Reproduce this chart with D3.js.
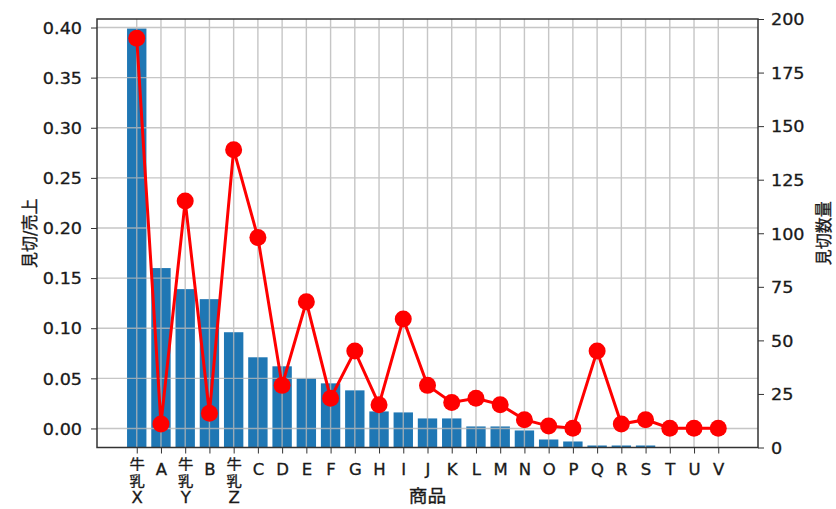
<!DOCTYPE html>
<html>
<head>
<meta charset="utf-8">
<script src="https://cdn.jsdelivr.net/npm/d3@7"></script>
<style>
  body { margin: 0; background: #fff; }
  text { font-family: "DejaVu Sans", "Noto Sans CJK JP", sans-serif; fill: #1a1a1a; stroke: #1a1a1a; stroke-width: 0.3px; }
</style>
</head>
<body>
<div id="chart"></div>
<script>
// categories (products), ratio bars (left axis) and counts (right axis)
const products = ["牛乳X", "A", "牛乳Y", "B", "牛乳Z", "C", "D", "E", "F", "G", "H", "I", "J",
    "K", "L", "M", "N", "O", "P", "Q", "R", "S", "T", "U", "V"];
const ratioValues = [0.399, 0.160, 0.139, 0.129, 0.096, 0.071, 0.062, 0.050, 0.045, 0.038,
    0.017, 0.016, 0.010, 0.010, 0.002, 0.002, -0.002, -0.011, -0.013, -0.017, -0.017, -0.017,
    -0.019, -0.019, -0.019];
const countValues = [191, 11, 115, 16, 139, 98, 29, 68, 23, 45, 20, 60, 29, 21, 23, 20, 13,
    10, 9, 45, 11, 13, 9, 9, 9];
const leftTicks = [0, 0.05, 0.10, 0.15, 0.20, 0.25, 0.30, 0.35, 0.40];
const rightTicks = [0, 25, 50, 75, 100, 125, 150, 175, 200];

const W = 836, H = 509;
const plot = { left: 97, right: 758, top: 19, bottom: 447.5 };
const stretch = 1.1; // text in the reference is slightly wide

const svg = d3.select("#chart").append("svg")
    .attr("width", W)
    .attr("height", H);

// Scales
const x = d3.scaleLinear()
    .domain([-1.64, products.length - 1 + 1.64])
    .range([plot.left, plot.right]);

const yLeft = d3.scaleLinear()
    .domain([-0.019, 0.4085])
    .range([plot.bottom, plot.top]);

const yRight = d3.scaleLinear()
    .domain([0, 200])
    .range([plot.bottom, plot.top]);

const barW = (x(0.8) - x(0));

// Bars
svg.append("g")
    .selectAll("rect")
    .data(ratioValues)
    .enter()
    .append("rect")
    .attr("x", (d, i) => x(i) - barW / 2)
    .attr("width", barW)
    .attr("y", d => yLeft(d))
    .attr("height", d => yLeft.range()[0] - yLeft(d))
    .attr("fill", "#1f77b4");

// Grid (drawn over the bars like the reference)
const grid = svg.append("g").attr("stroke", "#b8b8b8").attr("stroke-width", 1.4).attr("opacity", 0.8);
grid.selectAll(".vg")
    .data(d3.range(products.length))
    .enter()
    .append("line")
    .attr("x1", d => x(d)).attr("x2", d => x(d))
    .attr("y1", plot.top).attr("y2", plot.bottom);
grid.selectAll(".hg")
    .data(leftTicks)
    .enter()
    .append("line")
    .attr("x1", plot.left).attr("x2", plot.right)
    .attr("y1", d => yLeft(d)).attr("y2", d => yLeft(d));

// Frame
svg.append("rect")
    .attr("x", plot.left).attr("y", plot.top)
    .attr("width", plot.right - plot.left)
    .attr("height", plot.bottom - plot.top)
    .attr("fill", "none")
    .attr("stroke", "#333")
    .attr("stroke-width", 1.5);

// Axes
function stretchText(sel, anchorX) {
    sel.selectAll("text")
        .attr("transform", `scale(${stretch},1)`)
        .attr("x", anchorX / stretch);
}

const leftAxis = svg.append("g")
    .attr("transform", `translate(${plot.left},0)`)
    .call(d3.axisLeft(yLeft).tickValues(leftTicks).tickFormat(d3.format(".2f")).tickSize(6).tickPadding(8));
leftAxis.select(".domain").remove();
leftAxis.selectAll("text").style("font-size", "16px").attr("dy", "0.36em");
stretchText(leftAxis, -15);

const rightAxis = svg.append("g")
    .attr("transform", `translate(${plot.right},0)`)
    .call(d3.axisRight(yRight).tickValues(rightTicks).tickSize(6).tickPadding(8));
rightAxis.select(".domain").remove();
rightAxis.selectAll("text").style("font-size", "16px").attr("dy", "0.36em");
stretchText(rightAxis, 13);

const bottomAxis = svg.append("g")
    .attr("transform", `translate(0,${plot.bottom})`)
    .call(d3.axisBottom(x).tickValues(d3.range(products.length)).tickFormat(i => products[i]).tickSize(6));
bottomAxis.select(".domain").remove();
bottomAxis.selectAll("line").attr("stroke", "#333");
leftAxis.selectAll("line").attr("stroke", "#333");
rightAxis.selectAll("line").attr("stroke", "#333");

bottomAxis.selectAll("text").each(function(i) {
    const label = products[i];
    const t = d3.select(this).text(null).attr("y", 0).attr("dy", null)
        .style("font-size", "16px")
        .attr("transform", `scale(${stretch},1)`);
    const chars = label.length > 1 ? label.split("") : [label];
    chars.forEach((c, k) => {
        t.append("tspan")
            .attr("x", 0)
            .attr("y", (label.length > 1 ? 22 : 28) + k * 17)
            .style("font-size", /[\u4e00-\u9fff]/.test(c) ? "14px" : "15px")
            .text(c);
    });
});

// Count line with markers
const line = d3.line()
    .x((d, i) => x(i))
    .y(d => yRight(d));

svg.append("path")
    .datum(countValues)
    .attr("fill", "none")
    .attr("stroke", "#ff0000")
    .attr("stroke-width", 3)
    .attr("d", line);

svg.append("g")
    .selectAll("circle")
    .data(countValues)
    .enter()
    .append("circle")
    .attr("cx", (d, i) => x(i))
    .attr("cy", d => yRight(d))
    .attr("r", 8.5)
    .attr("fill", "#ff0000");

// Axis labels
svg.append("text")
    .attr("transform", `translate(36,${(plot.top + plot.bottom) / 2}) rotate(-90) scale(1,${stretch})`)
    .attr("text-anchor", "middle")
    .style("font-size", "16px")
    .text("見切/売上");

svg.append("text")
    .attr("transform", `translate(830,${(plot.top + plot.bottom) / 2}) rotate(-90) scale(1,${stretch})`)
    .attr("text-anchor", "middle")
    .style("font-size", "16px")
    .text("見切数量");

svg.append("text")
    .attr("transform", `translate(${(plot.left + plot.right) / 2},502) scale(${stretch},1)`)
    .attr("text-anchor", "middle")
    .style("font-size", "17px")
    .text("商品");
</script>
</body>
</html>
